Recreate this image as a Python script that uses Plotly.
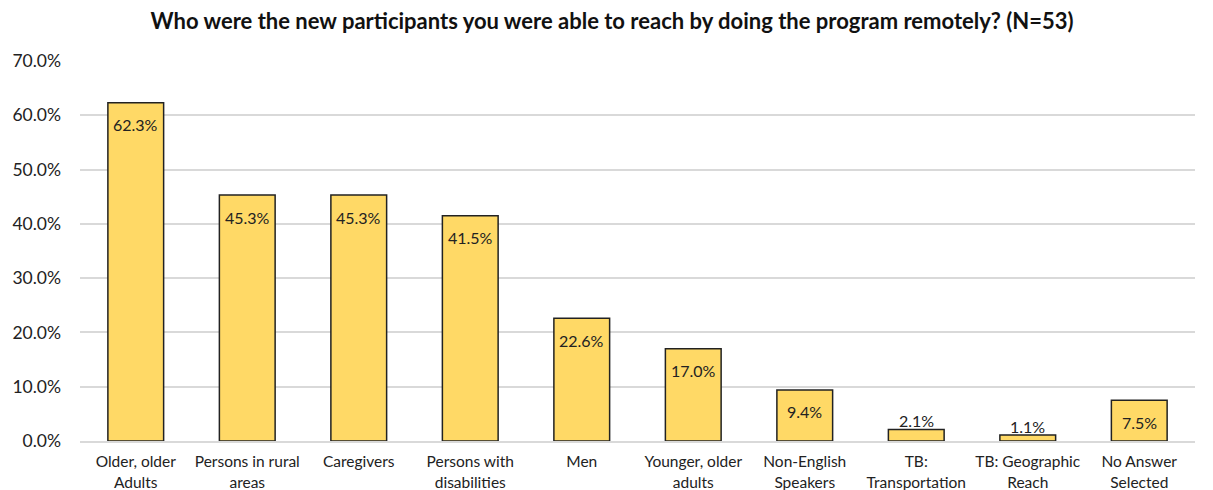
import plotly.graph_objects as go

categories = ["Older, older<br>Adults", "Persons in rural<br>areas", "Caregivers",
              "Persons with<br>disabilities", "Men", "Younger, older<br>adults",
              "Non-English<br>Speakers", "TB:<br>Transportation", "TB: Geographic<br>Reach",
              "No Answer<br>Selected"]
values = [62.3, 45.3, 45.3, 41.5, 22.6, 17.0, 9.4, 2.1, 1.1, 7.5]
label_inside = [True] * 7 + [False, False, True]
y_ticks = [0, 10, 20, 30, 40, 50, 60, 70]

font = "Lato, 'Open Sans', sans-serif"

fig = go.Figure(go.Bar(
    x=categories, y=values,
    marker=dict(color="#FFD966", line=dict(color="#222222", width=1.5)),
    hoverinfo="x+y",
))

for c, v, inside in zip(categories, values, label_inside):
    fig.add_annotation(x=c, y=v, text=f"{v:.1f}%", showarrow=False,
                       yshift=-22 if inside else 9, xanchor="center", yanchor="middle",
                       font=dict(family=font, size=16, color="#222222"))

fig.update_layout(
    width=1213, height=490,
    margin=dict(l=72, r=26, t=53, b=57),
    paper_bgcolor="white", plot_bgcolor="white",
    bargap=0.5,
    showlegend=False,
    title=dict(text="<b>Who were the new participants you were able to reach by doing the program remotely? (N=53)</b>",
               x=0.498, xanchor="center", y=1 - 13 / 490, yanchor="middle",
               font=dict(family=font, size=22, color="#111111")),
    font=dict(family=font, color="#222222"),
)
fig.update_yaxes(range=[0, 70], tickvals=y_ticks, ticktext=[f"{t:.1f}%" for t in y_ticks],
                 showgrid=True, gridcolor="#D9D9D9", gridwidth=1.5, zeroline=False,
                 tickfont=dict(family=font, size=17.5, color="#222222"), ticklabelstandoff=18,
                 automargin=False)
fig.update_xaxes(showline=True, linecolor="#D9D9D9", linewidth=1.5,
                 tickfont=dict(family=font, size=15.5, color="#222222"), automargin=False,
                 ticklabelstandoff=6)

fig.write_html("out.html")
